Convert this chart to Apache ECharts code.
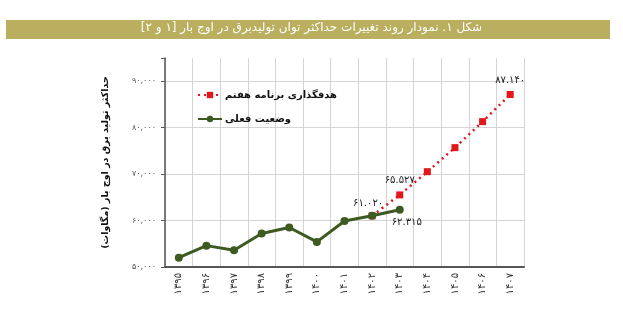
<!DOCTYPE html>
<html><head><meta charset="utf-8">
<script src="https://cdn.jsdelivr.net/npm/echarts@6/dist/echarts.min.js"></script>
<style>html,body{margin:0;padding:0;background:#fff}#c{width:623px;height:318px;}</style>
</head><body><div id="c" dir="rtl"></div>
<script>
const categories = ['۱۳۹۵','۱۳۹۶','۱۳۹۷','۱۳۹۸','۱۳۹۹','۱۴۰۰','۱۴۰۱','۱۴۰۲','۱۴۰۳','۱۴۰۴','۱۴۰۵','۱۴۰۶','۱۴۰۷'];
const currentValues = [52000, 54600, 53600, 57200, 58500, 55400, 59900, 61020, 62315, null, null, null, null];
const targetValues = [null, null, null, null, null, null, null, 61020, 65527, 70520, 75700, 81300, 87140];
const yMin = 50000, yMax = 95000, yStep = 10000;
const titleText = 'شکل ۱. نمودار روند تغییرات حداکثر توان تولیدبرق در اوج بار [۱ و ۲]';
const yAxisName = 'حداکثر تولید برق در اوج بار (مگاوات)';
const currentName = 'وضعیت فعلی';
const targetName = 'هدفگذاری برنامه هفتم';
const currentLabelled = {7: 'top', 8: 'bottom'};
const targetLabelled = {8: 'top', 12: 'top'};

const FA = '۰۱۲۳۴۵۶۷۸۹';
const toFa = s => String(s).replace(/\d/g, d => FA[d]);
const fmt = (v, sep) => toFa(String(Math.floor(v / 1000)) + sep + String(v % 1000).padStart(3, '0'));
const font = "'DejaVu Sans', sans-serif";
const GREEN = '#3c5a22', RED = '#e2161b';

function items(vals, labelled, offsets, dists) {
  return vals.map((v, i) => {
    if (v === null) return null;
    const it = { value: v };
    if (labelled[i]) {
      it.label = { show: true, position: labelled[i], offset: offsets[i] || [0, 0], distance: dists[i] || 5,
        formatter: p => fmt(p.value, '.'), fontFamily: font, fontSize: 10, color: '#222' };
    }
    return it;
  });
}

const chart = echarts.init(document.getElementById('c'), null, { renderer: 'canvas' });
chart.setOption({
  animation: false,
  backgroundColor: '#fff',
  graphic: [{ type: 'rect', left: 6, top: 20, z: -1, shape: { width: 604, height: 19 }, style: { fill: '#b9af5e' } }],
  title: { text: titleText, left: 'center', top: 22, padding: 0,
    textStyle: { fontFamily: font, fontSize: 12, fontWeight: 'normal', color: '#fff' } },
  grid: { left: 165, right: 99, top: 58, bottom: 51, containLabel: false },
  legend: {
    orient: 'vertical', left: 197, top: 90, padding: 0, itemGap: 14, itemWidth: 24, itemHeight: 8,
    data: [targetName, currentName],
    textStyle: { fontFamily: font, fontSize: 10, fontWeight: 'bold', color: '#111', padding: [0, 0, 0, -2] }
  },
  xAxis: {
    type: 'category', data: categories, boundaryGap: true,
    axisLine: { lineStyle: { color: '#555', width: 2 } },
    axisTick: { alignWithLabel: true, length: 4, lineStyle: { color: '#555' } },
    axisLabel: { rotate: 90, margin: 6, fontFamily: font, fontSize: 10, color: '#333', interval: 0 },
    splitLine: { show: true, lineStyle: { color: '#d4d4d4', width: 1 } }
  },
  yAxis: {
    type: 'value', min: yMin, max: yMax, interval: yStep,
    name: yAxisName, nameLocation: 'middle', nameRotate: 90, nameGap: 54,
    nameTextStyle: { fontFamily: font, fontSize: 9.5, fontWeight: 'bold', color: '#111' },
    axisLine: { show: true, lineStyle: { color: '#555', width: 1.5 } },
    axisTick: { show: true, length: 4, lineStyle: { color: '#555' } },
    axisLabel: { margin: 9, fontFamily: font, fontSize: 8, color: '#555',
      formatter: v => (v % yStep === 0 ? fmt(v, ',') : '') },
    splitLine: { show: true, showMaxLine: false, lineStyle: { color: '#d4d4d4', width: 1 } }
  },
  series: [
    { name: targetName, type: 'line', z: 2, data: items(targetValues, targetLabelled, {}, {8: 6, 12: 6}),
      symbol: 'rect', symbolSize: 7, showAllSymbol: true,
      itemStyle: { color: RED }, lineStyle: { color: RED, width: 2.5, type: [2, 4] } },
    { name: currentName, type: 'line', z: 3, data: items(currentValues, currentLabelled, {7: [-4, 0], 8: [7, 0]}, {7: 3, 8: 4}),
      symbol: 'circle', symbolSize: 8, showAllSymbol: true,
      itemStyle: { color: GREEN }, lineStyle: { color: GREEN, width: 3 } }
  ]
});
</script></body></html>
